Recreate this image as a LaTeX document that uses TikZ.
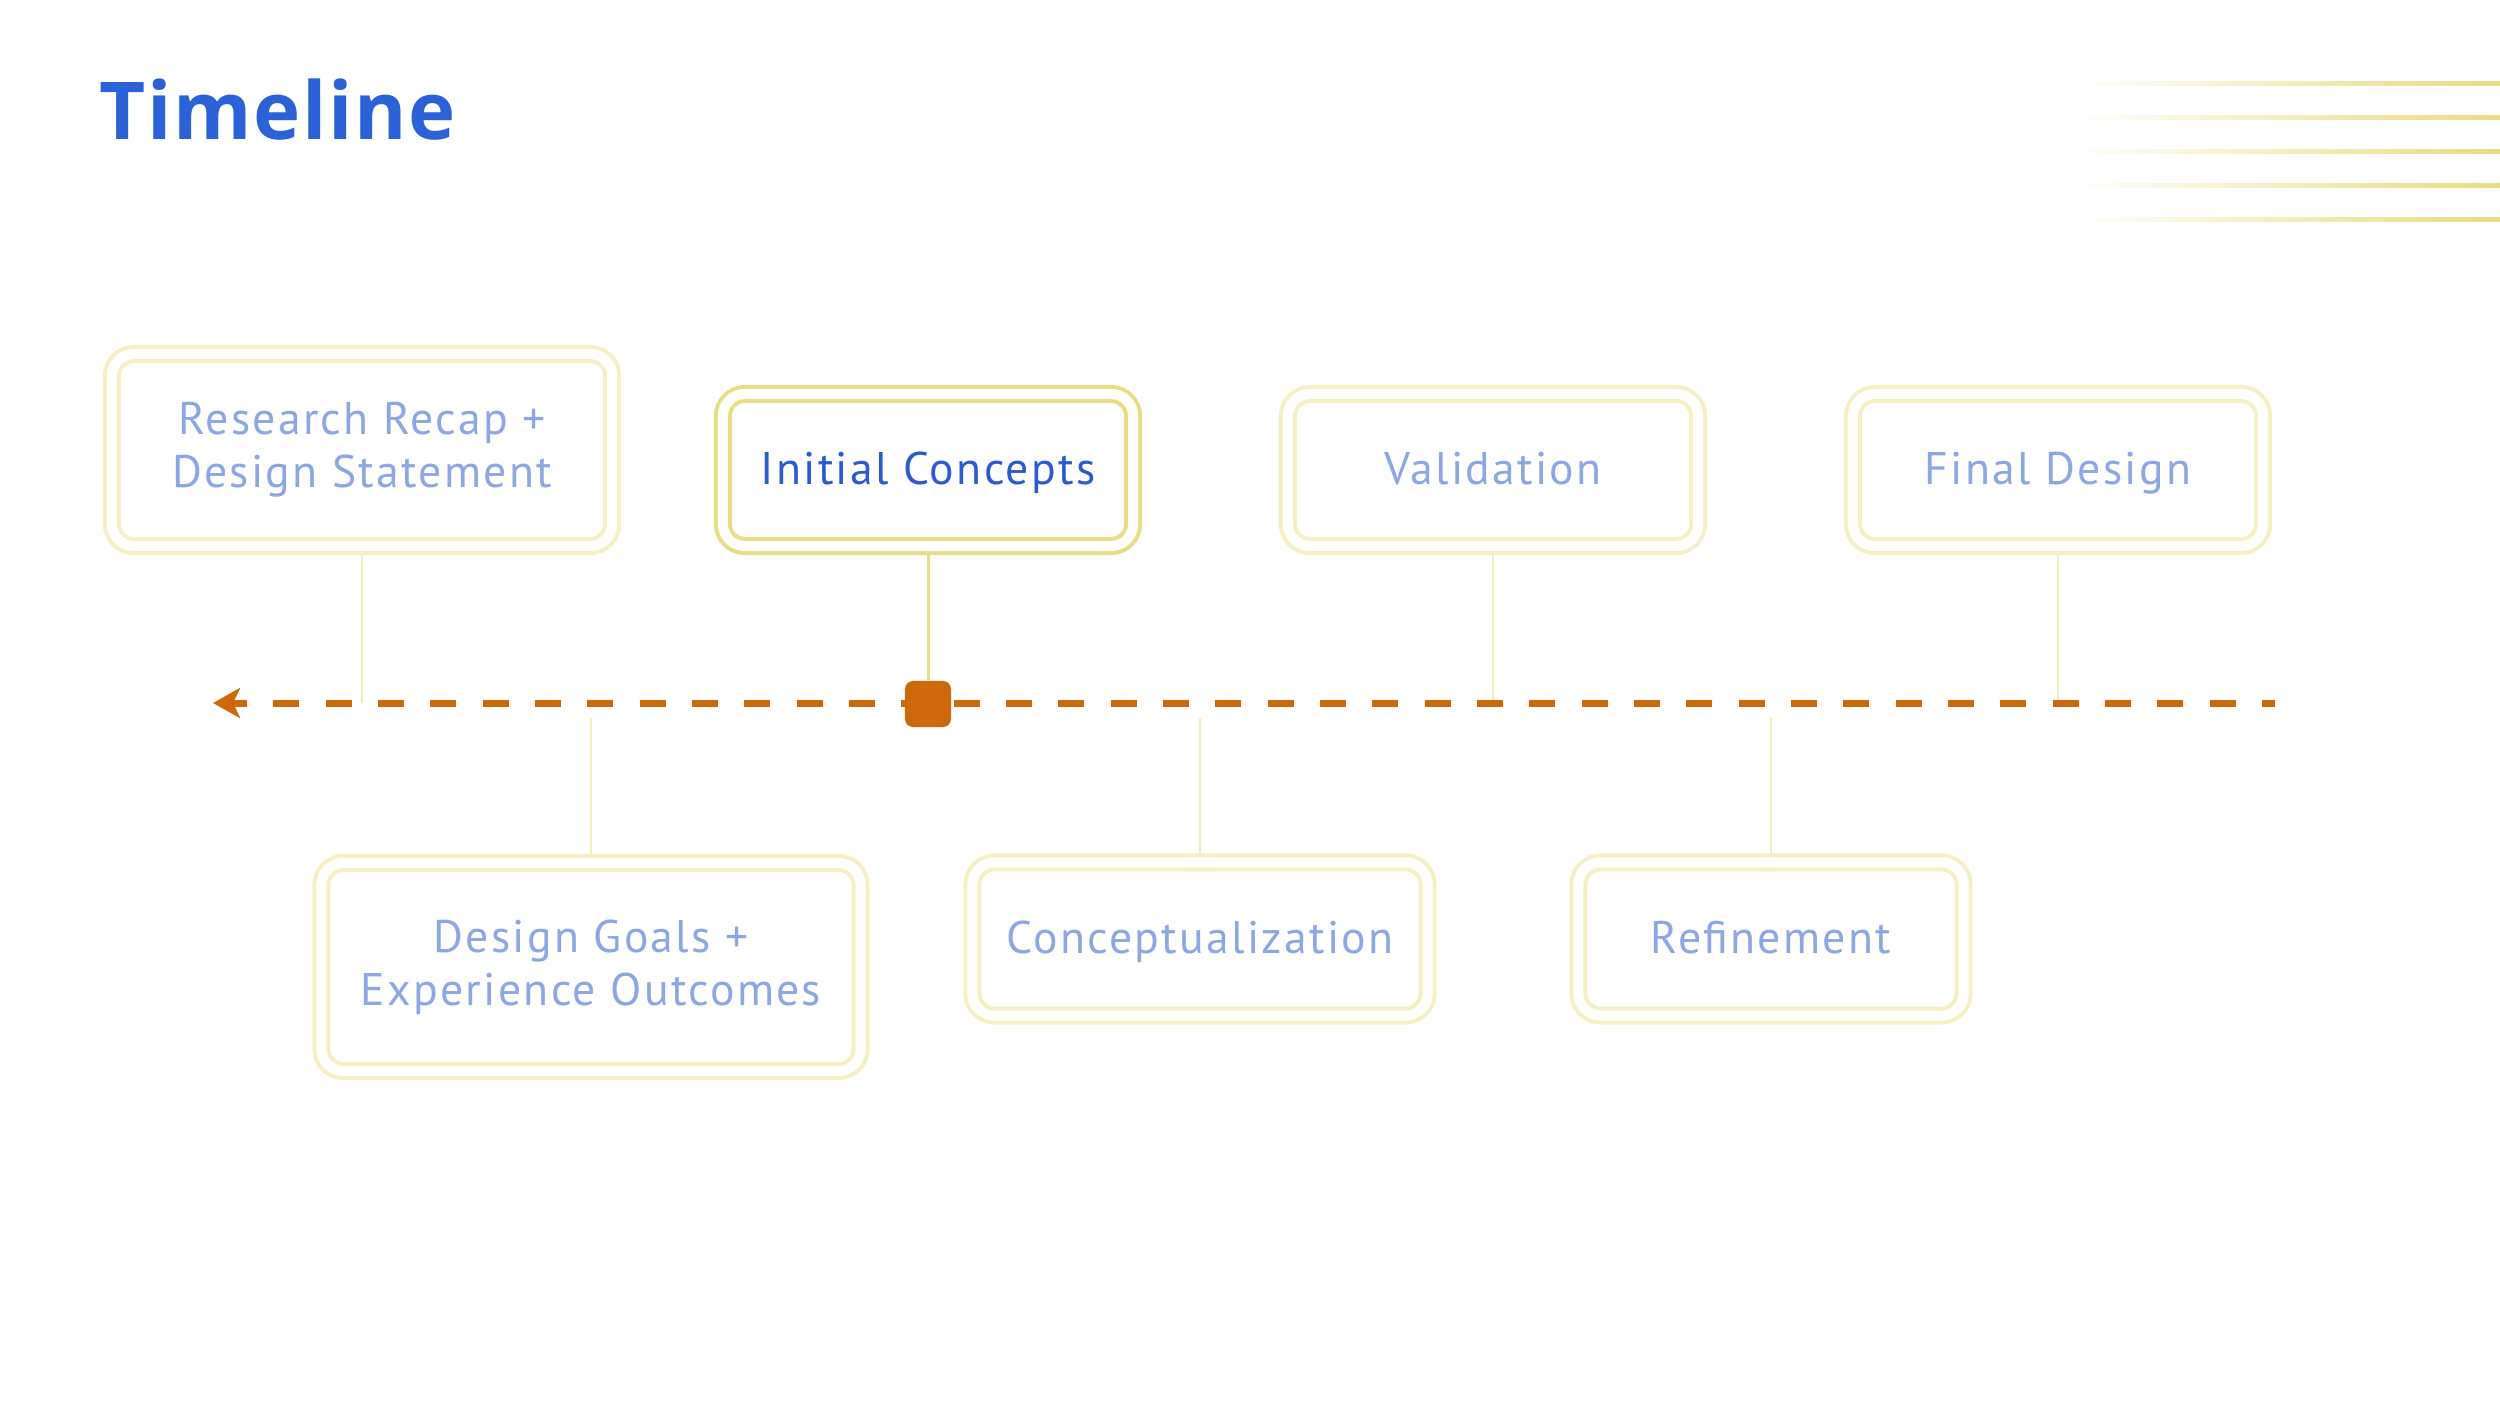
\documentclass[tikz,border=0pt]{standalone}
\usepackage{fontspec}
\setmainfont{PT Sans}
\newfontfamily\labelfont{PT Sans}[LetterSpace=5]
\newfontfamily\titlefont{Open Sans}[LetterSpace=2]
\usetikzlibrary{arrows.meta,backgrounds}

\definecolor{titleblue}{HTML}{2B62D8}
\definecolor{activetext}{HTML}{2A5BCF}
\definecolor{paletext}{HTML}{8DA6E4}
\definecolor{activeyellow}{HTML}{E8DE88}
\definecolor{paleyellow}{HTML}{F5F0C4}
\definecolor{linkyellow}{HTML}{F3EDBE}
\definecolor{decoyellow}{HTML}{E8DC80}
\definecolor{timeorange}{HTML}{CC6A0B}

\begin{document}
\begin{tikzpicture}[x=0.01cm,y=-0.01cm,
    stage/.style={draw=paleyellow, double=white, double distance=0.1cm,
      line width=0.04cm, rounded corners=0.22cm, fill=white, inner sep=0pt,
      align=center, text=paletext,
      font=\labelfont\fontsize{13}{15.1}\selectfont},
    oneline/.style={text height=0.38cm, text depth=0.1cm},
    active/.style={draw=activeyellow, text=activetext},
    link/.style={draw=linkyellow, line width=0.02cm},
    activelink/.style={draw=activeyellow, line width=0.03cm}]
    \useasboundingbox (0,0) rectangle (2500,1406);

    % title and corner lines
    \node[anchor=base west, inner sep=0pt, text=titleblue,
      font=\titlefont\bfseries\fontsize{22.7}{28}\selectfont] (title) at (99,139) {Timeline};
    \foreach \y in {83,117,151,185,219}
        \shade[left color=white, right color=decoyellow] (2068,{\y-2}) rectangle (2500,{\y+2});

    % stages above the line
    \node[stage, minimum width=5cm, minimum height=1.92cm] (recap) at (362,450) {Research Recap +\\Design Statement};
    \node[stage, oneline, active, minimum width=4.1cm, minimum height=1.52cm] (concepts) at (928,470) {Initial Concepts};
    \node[stage, oneline, minimum width=4.1cm, minimum height=1.52cm] (validation) at (1493,470) {Validation};
    \node[stage, oneline, minimum width=4.1cm, minimum height=1.52cm] (final) at (2058,470) {Final Design};

    % stages below the line
    \node[stage, minimum width=5.39cm, minimum height=2.08cm] (goals) at (591,967) {Design Goals +\\Experience Outcomes};
    \node[stage, oneline, minimum width=4.55cm, minimum height=1.53cm] (conceptual) at (1200,939) {Conceptualization};
    \node[stage, oneline, minimum width=3.85cm, minimum height=1.53cm] (refine) at (1771,939) {Refinement};

    % the line itself
    \coordinate (tl-start) at (213,703);
    \coordinate (tl-end) at (2275,703);
    \draw[timeorange, line width=0.07cm, dash pattern=on 0.26cm off 0.263cm, dash phase=0.13cm,
      -{Stealth[length=0.27cm,width=0.3cm,inset=0.07cm]}] (tl-end) -- (tl-start);
    \node[fill=timeorange, rounded corners=0.08cm, minimum size=0.46cm, inner sep=0pt] (now) at (928,704) {};

    \begin{scope}[on background layer]
        \draw[link] (recap.south) -- (recap.south |- tl-start);
        \draw[activelink] (concepts.south) -- (now.north);
        \draw[link] (validation.south) -- (validation.south |- tl-start);
        \draw[link] (final.south) -- (final.south |- tl-start);
        \draw[link, shorten <=0.15cm] (goals.north |- tl-start) -- (goals.north);
        \draw[link, shorten <=0.15cm] (conceptual.north |- tl-start) -- (conceptual.north);
        \draw[link, shorten <=0.15cm] (refine.north |- tl-start) -- (refine.north);
    \end{scope}
\end{tikzpicture}
\end{document}
